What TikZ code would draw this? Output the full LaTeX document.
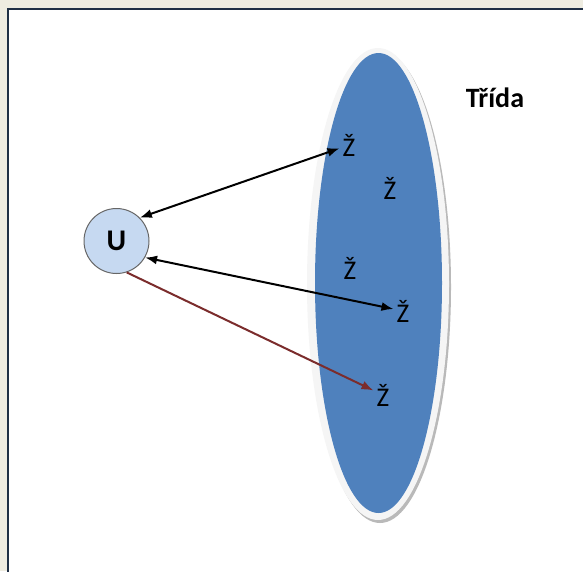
\documentclass[tikz,border=0pt]{standalone}
\usepackage{fontspec}
\setmainfont{Carlito}
\usepackage{tikz}
\usetikzlibrary{arrows.meta,shapes.geometric}
\definecolor{frameBg}{HTML}{EEECE1}
\definecolor{frameLn}{HTML}{1F2F45}
\definecolor{clsBlue}{HTML}{4F81BD}
\definecolor{usrFill}{HTML}{C6D9F1}
\definecolor{arrRed}{HTML}{7B2C2C}

\begin{document}
\begin{tikzpicture}[
  x=1pt, y=-1pt,
  zlab/.style={inner sep=3pt,font=\fontsize{27}{27}\selectfont},
  link/.style={line width=2pt,{Latex[length=12pt,width=9pt]}-{Latex[length=12pt,width=9pt]}},
  >=Latex]
\useasboundingbox (0,0) rectangle (583,571);
\clip (0,0) rectangle (583,571);
\fill[frameBg] (0,0) rectangle (583,571);
\draw[frameLn,line width=2pt,fill=white] (8,9) rectangle (620,620);
% class
\fill[gray!55] (380,287) ellipse [x radius=71pt,y radius=236pt];
\fill[gray!8] (378,284) ellipse [x radius=71pt,y radius=236pt];
\node[ellipse,fill=clsBlue,minimum width=127pt,minimum height=460pt,inner sep=0pt] (cls) at (378.5,283) {};
\node[font=\bfseries\fontsize{28}{28}\selectfont] (name) at (495,98) {Třída};
% members
\node[zlab] (z1) at (349,145) {Ž};
\node[zlab] (z2) at (390,188) {Ž};
\node[zlab] (z3) at (350,268) {Ž};
\node[zlab] (z4) at (403,311) {Ž};
\node[zlab] (z5) at (383,395) {Ž};
% user
\node[circle,draw=black!60,line width=1pt,fill=usrFill,minimum size=65pt,inner sep=0pt,
  font=\bfseries\fontsize{30}{30}\selectfont] (usr) at (116.5,241) {U};
\draw[link] (usr.45) -- (z1);
\draw[link] (usr.-30) -- (z4);
\draw[arrRed,line width=2pt,-{Latex[length=12pt,width=9pt]}] (usr.-72) -- (z5);
\end{tikzpicture}
\end{document}
